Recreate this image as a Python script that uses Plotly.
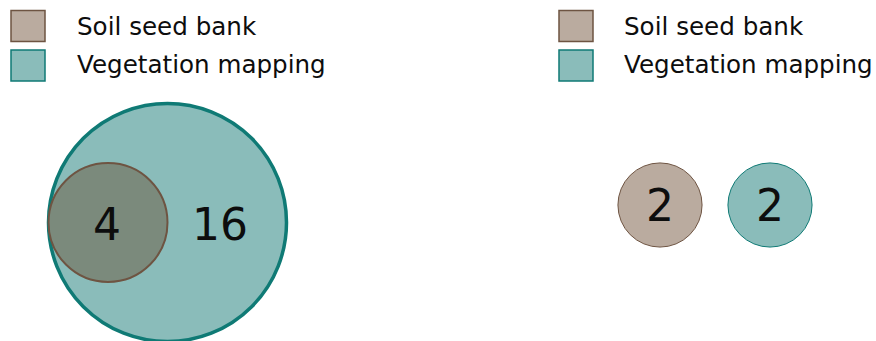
import math
import plotly.graph_objects as go

# ---- data ----
set_names = ["Soil seed bank", "Vegetation mapping"]
left_shared = 4          # species in both (soil seed bank inside vegetation)
left_veg_only = 16       # species only in vegetation mapping
right_soil_only = 2
right_veg_only = 2

# ---- style ----
SOIL_FILL = "#baab9f"
SOIL_LINE = "#6e5442"
VEG_FILL = "#8abcba"
VEG_LINE = "#0f7a75"
OVERLAP_FILL = "#7b8a7c"
FONT = "DejaVu Sans"
W, H = 876, 341
K = 29.75  # pixels per sqrt(unit)

def r(v):
    return K * math.sqrt(v)

fig = go.Figure()
shapes = []
annotations = []

def circle(cx, cy, rad, fill, line, lw):
    shapes.append(dict(type="circle", xref="x", yref="y",
                       x0=cx - rad, x1=cx + rad, y0=cy - rad, y1=cy + rad,
                       fillcolor=fill, line=dict(color=line, width=lw), layer="above"))

def label(x, y, text, size, anchor="center", color="#0d0d0d"):
    annotations.append(dict(x=x, y=y, xref="x", yref="y", text=text, showarrow=False,
                            xanchor=anchor, yanchor="middle",
                            font=dict(family=FONT, size=size, color=color)))

# left panel
circle(167.5, 222.5, r(left_veg_only), VEG_FILL, VEG_LINE, 3.5)
circle(108, 222.5, r(left_shared), OVERLAP_FILL, SOIL_LINE, 2)
label(107, 224, str(left_shared), 44)
label(220, 224, str(left_veg_only), 44)

# right panel
circle(660, 205, r(right_soil_only), SOIL_FILL, SOIL_LINE, 1)
circle(770, 205, r(right_veg_only), VEG_FILL, VEG_LINE, 1)
label(660, 205, str(right_soil_only), 44)
label(770, 205, str(right_veg_only), 44)

# legends
def legend(x_sq, x_txt):
    fills = [SOIL_FILL, VEG_FILL]
    lines = [SOIL_LINE, VEG_LINE]
    ys = [(10, 42), (49.5, 81.5)]
    text_y = [26.5, 64]
    for name, f, l, (y0, y1), ty in zip(set_names, fills, lines, ys, text_y):
        shapes.append(dict(type="rect", xref="x", yref="y", x0=x_sq + 1, x1=x_sq + 35,
                           y0=y0 + 0.5, y1=y1 - 0.5, fillcolor=f,
                           line=dict(color=l, width=1.5)))
        label(x_txt, ty, name, 24.6, anchor="left")

legend(10, 75)
legend(558, 622)

fig.update_layout(
    width=W, height=H, margin=dict(l=0, r=0, t=0, b=0),
    paper_bgcolor="white", plot_bgcolor="white",
    xaxis=dict(range=[0, W], visible=False, fixedrange=True),
    yaxis=dict(range=[H, 0], visible=False, fixedrange=True),
    shapes=shapes, annotations=annotations, showlegend=False,
)
fig.write_html("out.html", config={"displayModeBar": False},
               post_script="document.body.style.margin='0';document.body.style.overflow='hidden';")
